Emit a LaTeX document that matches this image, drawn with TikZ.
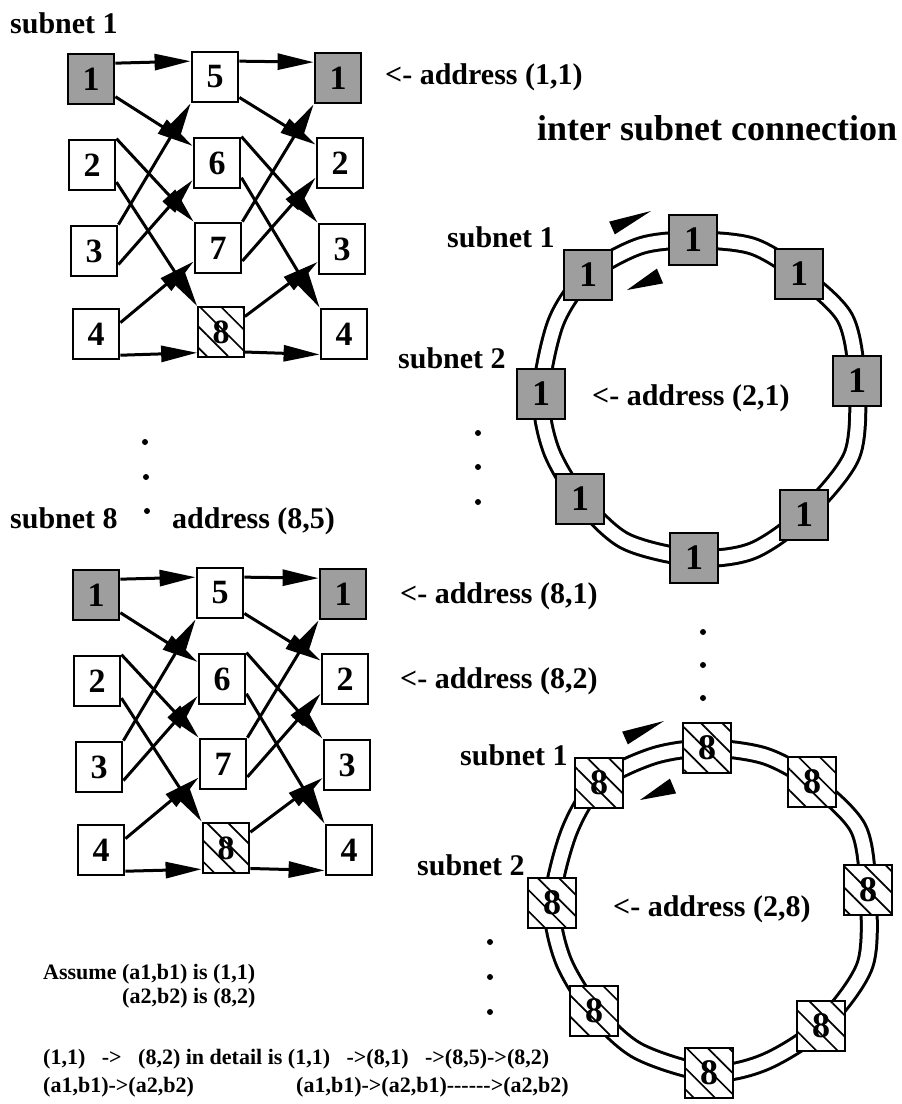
\documentclass[tikz,border=0pt]{standalone}
\usepackage{fontspec}
\setmainfont{Liberation Serif}
\usetikzlibrary{arrows.meta,patterns.meta}
\newcommand\hy{-\kern0pt}
\tikzset{
  nbox/.style={draw, line width=2.8pt, minimum width=46pt, minimum height=50pt,
    inner sep=0pt, fill=white, font=\fontsize{34}{36}\selectfont\bfseries},
  rbox/.style={nbox, minimum width=48pt, minimum height=50pt, font=\fontsize{36}{38}\selectfont\bfseries},
  gbox/.style={fill=black!38},
  hbox/.style={preaction={fill=white}, pattern={Lines[angle=-45,distance=15pt,line width=1.7pt]}},
  conn/.style={line width=3pt, -{Triangle[length=36pt,width=16pt]}},
  ring/.style={line width=3pt, double=white, double distance=13pt},
  lbl/.style={inner sep=0pt, anchor=base west, font=\fontsize{30}{32}\selectfont\bfseries},
  big/.style={lbl, font=\fontsize{36}{40}\selectfont\bfseries},
  small/.style={lbl, font=\fontsize{22}{24}\selectfont\bfseries},
  dot/.style={circle, fill=black, inner sep=0pt, minimum size=6pt},
  wedge/.style={fill=black}
}
\newcommand\drawnet[1]{%
  \node[nbox,gbox] (#1L1) at (91,79) {1};
  \node[nbox] (#1L2) at (92,165) {2};
  \node[nbox] (#1L3) at (94,251) {3};
  \node[nbox] (#1L4) at (96,334) {4};
  \node[nbox] (#1M5) at (215,77) {5};
  \node[nbox] (#1M6) at (217,163) {6};
  \node[nbox] (#1M7) at (218,248) {7};
  \node[nbox,hbox] (#1M8) at (221,332) {8};
  \node[nbox,gbox] (#1R1) at (338,78) {1};
  \node[nbox] (#1R2) at (340,163) {2};
  \node[nbox] (#1R3) at (342,249) {3};
  \node[nbox] (#1R4) at (344,334) {4};
  \draw[conn] (#1L1.33) -- (#1M5.147);
  \draw[conn] (#1L1.-36) -- (#1M6.145);
  \draw[conn] (#1L2.north east) -- (#1M7.north west);
  \draw[conn] (#1L2.-35) -- (#1M8.north west);
  \draw[conn] (#1L3.north east) -- (#1M5.south west);
  \draw[conn] (#1L3.-29) -- (#1M6.215);
  \draw[conn] (#1L4.25) -- (#1M7.209);
  \draw[conn] (#1L4.-41) -- (#1M8.221);
  \draw[conn] (#1M5.33) -- (#1R1.147);
  \draw[conn] (#1M5.-40) -- (#1R2.143);
  \draw[conn] (#1M6.north east) -- (#1R3.north west);
  \draw[conn] (#1M6.-31) -- (#1R4.north west);
  \draw[conn] (#1M7.north east) -- (#1R1.south west);
  \draw[conn] (#1M7.-28) -- (#1R2.211);
  \draw[conn] (#1M8.33) -- (#1R3.208);
  \draw[conn] (#1M8.-40) -- (#1R4.220);
}
\begin{document}
\begin{tikzpicture}[x=1pt,y=-1pt]
\useasboundingbox (0,0) rectangle (902,1104);
\fill[white] (0,0) rectangle (902,1104);

% ---------- left networks ----------
\node[lbl] (s1) at (10,33) {subnet 1};
\drawnet{a}
\node[lbl] (ad11) at (385,84) {<- address (1,1)};

\node[dot] (d1) at (145,442) {};
\node[dot] (d2) at (146,477) {};
\node[dot] (d3) at (147,511) {};

\node[lbl] (s8) at (10,528) {subnet 8};
\node[lbl] (ad85) at (172,528) {address (8,5)};
\begin{scope}[shift={(5,516)}]
  \drawnet{b}
\end{scope}
\node[lbl] (ad81) at (400,603) {<- address (8,1)};
\node[lbl] (ad82) at (400,688) {<- address (8,2)};

% ---------- top ring ----------
\node[big] (isc) at (537,140) {inter subnet connection};
\coordinate (A1) at (693,240);
\coordinate (A2) at (799,274);
\coordinate (A3) at (857,381);
\coordinate (A4) at (804,515);
\coordinate (A5) at (694,558);
\coordinate (A6) at (580,499);
\coordinate (A7) at (541,394);
\coordinate (A8) at (588,275);
\draw[ring] plot[smooth cycle, tension=0.5] coordinates {(A1) (752,246) (A2) (845,318) (A3) (852,455) (A4) (752,551) (A5) (625,541) (A6) (551,450) (A7) (556,322) (A8) (640,246)};
\foreach \i in {1,...,8} {\node[rbox,gbox] (ra\i) at (A\i) {1};}
\fill[wedge] (609.2,221.6) -- (651,211) -- (614.8,234.4) -- cycle;
\fill[wedge] (663.1,283.4) -- (627,290) -- (656.9,268.6) -- cycle;
\node[lbl] (rs1) at (447,247) {subnet 1};
\node[lbl] (rs2) at (398,368) {subnet 2};
\node[lbl] (ad21) at (592,405) {<- address (2,1)};
\node[dot] (e1) at (478,433) {};
\node[dot] (e2) at (478,467) {};
\node[dot] (e3) at (478,502) {};

\node[dot] (f1) at (703,632) {};
\node[dot] (f2) at (703,665) {};
\node[dot] (f3) at (703,698) {};

% ---------- bottom ring ----------
\coordinate (B1) at (707,748);
\coordinate (B2) at (812,782);
\coordinate (B3) at (868,890);
\coordinate (B4) at (821,1026);
\coordinate (B5) at (709,1073);
\coordinate (B6) at (594,1011);
\coordinate (B7) at (552,903);
\coordinate (B8) at (599,783);
\draw[ring] plot[smooth cycle, tension=0.5] coordinates {(B1) (765,756) (B2) (858,828) (B3) (865,965) (B4) (765,1062) (B5) (638,1051) (B6) (563,960) (B7) (569,832) (B8) (653,756)};
\foreach \i in {1,...,8} {\node[rbox,hbox] (rb\i) at (B\i) {8};}
\fill[wedge] (622.2,731.6) -- (664,721) -- (627.8,744.4) -- cycle;
\fill[wedge] (676.1,793.4) -- (640,800) -- (669.9,778.6) -- cycle;
\node[lbl] (rt1) at (460,765) {subnet 1};
\node[lbl] (rt2) at (417,875) {subnet 2};
\node[lbl] (ad28) at (613,916) {<- address (2,8)};
\node[dot] (g1) at (490,942) {};
\node[dot] (g2) at (490,977) {};
\node[dot] (g3) at (490,1012) {};

% ---------- notes ----------
\node[small] (t1) at (43,979) {Assume (a1,b1) is (1,1)};
\node[small] (t2) at (122,1003) {(a2,b2) is (8,2)};
\node[small] (t3) at (43,1064) {(1,1)\ \ \ ->\ \ \ (8,2) in detail is (1,1)\ \ \ ->(8,1)\ \ \ ->(8,5)->(8,2)};
\node[small] (t4) at (43,1092) {(a1,b1)->(a2,b2)};
\node[small] (t5) at (296,1092) {(a1,b1)->(a2,b1)\hy\hy\hy\hy\hy\hy>(a2,b2)};
\end{tikzpicture}
\end{document}
